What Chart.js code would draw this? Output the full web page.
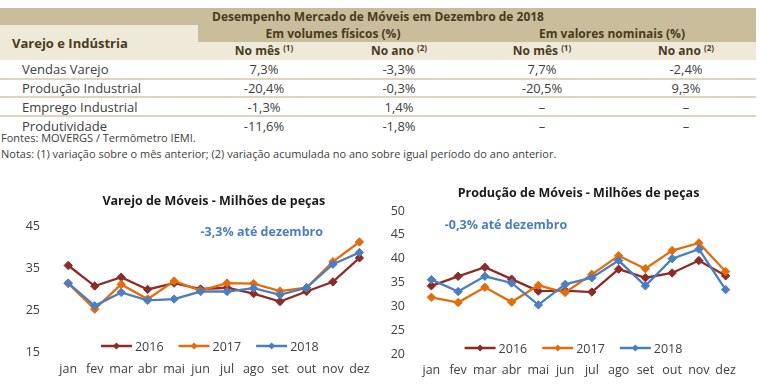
<!DOCTYPE html>
<html>
<head>
<meta charset="utf-8">
<script src="https://cdn.jsdelivr.net/npm/chart.js@4.4.1/dist/chart.umd.min.js"></script>
<style>
  body { margin: 0; width: 760px; height: 392px; background: #fff; font-family: "Open Sans", sans-serif; position: relative; overflow: hidden; }
  #tab { position: absolute; left: 0; top: 8px; width: 756px; border-collapse: collapse; table-layout: fixed; color: #404040; font-size: 13px; }
  #tab th, #tab td { padding: 0; white-space: nowrap; line-height: 14px; }
  #tab th { color: #4a3c20; font-size: 12px; font-weight: bold; }
  #tab .dark { background: #c9bd9b; }
  #tab .light { background: #efe9da; }
  #tab .lab { text-align: left; padding-left: 12px; font-size: 13px; }
  #tab sup { font-size: 8px; vertical-align: 4px; line-height: 0; }
  #tab td { text-align: center; }
  #tab td.name { text-align: left; padding-left: 22px; }
  #tab tr.sep td { border-bottom: 2px solid #ddd5c0; }
  .note { position: absolute; left: 1px; font-size: 11px; line-height: 14px; color: #404040; white-space: nowrap; }
  .box { position: absolute; }
</style>
</head>
<body>
<table id="tab">
  <colgroup><col style="width:198px"><col style="width:132px"><col style="width:138px"><col style="width:148px"><col style="width:140px"></colgroup>
  <thead>
    <tr style="height:17px"><th colspan="5" class="dark">Desempenho Mercado de Móveis em Dezembro de 2018</th></tr>
    <tr style="height:17px"><th rowspan="2" class="lab light">Varejo e Indústria</th><th colspan="2" class="dark">Em volumes físicos (%)</th><th colspan="2" class="dark">Em valores nominais (%)</th></tr>
    <tr style="height:18px" class="light"><th class="light">No mês <sup>(1)</sup></th><th class="light">No ano <sup>(2)</sup></th><th class="light">No mês <sup>(1)</sup></th><th class="light">No ano <sup>(2)</sup></th></tr>
  </thead>
  <tbody id="tbody"></tbody>
</table>
<div class="note" style="top:131px">Fontes: MOVERGS / Termômetro IEMI.</div>
<div class="note" style="top:147px">Notas: (1) variação sobre o mês anterior; (2) variação acumulada no ano sobre igual período do ano anterior.</div>

<div class="box" style="left:0;top:185px;width:380px;height:207px"><canvas id="varejoChart"></canvas></div>
<div class="box" style="left:380px;top:178px;width:380px;height:214px"><canvas id="producaoChart"></canvas></div>

<script>
// Tabela
const rowNames = ["Vendas Varejo", "Produção Industrial", "Emprego Industrial", "Produtividade"]
const volMes = ["7,3%", "-20,4%", "-1,3%", "-11,6%"]
const volAno = ["-3,3%", "-0,3%", "1,4%", "-1,8%"]
const nomMes = ["7,7%", "-20,5%", "–", "–"]
const nomAno = ["-2,4%", "9,3%", "–", "–"]
const rowHeights = [19, 18, 19, 19]

// Graficos
const months = ["jan", "fev", "mar", "abr", "mai", "jun", "jul", "ago", "set", "out", "nov", "dez"]
const years = ["2016", "2017", "2018"]
const yearColors = ["#8c2b27", "#e46c0a", "#4a7ebf"]

const varejo2016 = [35.6, 30.7, 32.8, 29.9, 31.4, 30.0, 30.3, 28.9, 27.0, 29.4, 31.7, 37.4]
const varejo2017 = [31.3, 25.2, 31.1, 27.6, 31.9, 29.6, 31.4, 31.3, 29.5, 30.3, 36.5, 41.2]
const varejo2018 = [31.4, 26.0, 29.2, 27.3, 27.6, 29.4, 29.4, 30.2, 28.6, 30.3, 35.9, 38.7]

const producao2016 = [34.3, 36.3, 38.2, 35.7, 33.2, 33.3, 33.0, 37.8, 36.0, 37.0, 39.6, 36.4]
const producao2017 = [31.9, 30.8, 34.0, 30.9, 34.4, 32.9, 36.7, 40.6, 37.9, 41.7, 43.3, 37.3]
const producao2018 = [35.6, 33.1, 36.3, 34.9, 30.3, 34.6, 36.0, 39.6, 34.3, 40.0, 42.0, 33.5]

const tbody = document.getElementById("tbody")
rowNames.forEach((name, i) => {
  const tr = document.createElement("tr")
  tr.style.height = rowHeights[i] + "px"
  if (i < rowNames.length - 1) tr.className = "sep"
  ;[name, volMes[i], volAno[i], nomMes[i], nomAno[i]].forEach((txt, j) => {
    const td = document.createElement("td")
    td.textContent = txt
    if (j === 0) td.className = "name"
    tr.appendChild(td)
  })
  tbody.appendChild(tr)
})

const FONT = "'Open Sans', sans-serif"
const TEXT = "#404040"

// legenda desenhada dentro da area do grafico, e o texto azul
const extrasPlugin = {
  id: "extras",
  afterDraw(chart) {
    const ctx = chart.ctx
    const o = chart.options.plugins.extras
    const area = chart.chartArea
    const xs = chart.scales.x, ys = chart.scales.y

    ctx.save()
    ctx.font = "bold 12.5px " + FONT
    ctx.fillStyle = "#4a7ebf"
    ctx.textAlign = "left"
    ctx.textBaseline = "middle"
    ctx.fillText(o.note, xs.getPixelForValue(o.noteAt[0]), ys.getPixelForValue(o.noteAt[1]))

    ctx.font = "12.5px " + FONT
    const lineLen = 31, gap = 3, itemGap = 15
    const items = chart.data.datasets.map(ds => ({ label: ds.label, color: ds.borderColor, w: lineLen + gap + ctx.measureText(ds.label).width }))
    const total = items.reduce((s, it) => s + it.w, 0) + itemGap * (items.length - 1)
    let x = (area.left + area.right) / 2 - o.legendShift - total / 2
    const y = area.bottom - 6
    items.forEach(it => {
      ctx.strokeStyle = it.color
      ctx.lineWidth = 2.5
      ctx.beginPath(); ctx.moveTo(x, y); ctx.lineTo(x + lineLen, y); ctx.stroke()
      ctx.fillStyle = it.color
      const cx = x + lineLen / 2
      ctx.beginPath(); ctx.moveTo(cx, y - 3.5); ctx.lineTo(cx + 3.5, y); ctx.lineTo(cx, y + 3.5); ctx.lineTo(cx - 3.5, y); ctx.closePath(); ctx.fill()
      ctx.fillStyle = TEXT
      ctx.fillText(it.label, x + lineLen + gap, y + 1)
      x += it.w + itemGap
    })
    ctx.restore()
  }
}

function makeChart(id, title, series, yMin, yMax, step, opts) {
  const datasets = series.map((data, i) => ({
    label: years[i],
    data,
    borderColor: yearColors[i],
    backgroundColor: yearColors[i],
    borderWidth: 2.3,
    pointStyle: "rectRot",
    pointRadius: 4.2,
    pointBorderWidth: 1,
    tension: 0,
    order: series.length - i
  }))

  return new Chart(document.getElementById(id), {
    type: "line",
    data: { labels: months, datasets },
    options: {
      responsive: true,
      maintainAspectRatio: false,
      animation: false,
      layout: { padding: { top: 0, left: 0, right: opts.padRight, bottom: opts.padBottom } },
      plugins: {
        legend: { display: false },
        tooltip: { enabled: false },
        title: {
          display: true,
          text: title,
          color: "#1a1a1a",
          fullSize: false,
          font: { family: FONT, size: 12.5, weight: "bold" },
          padding: { top: opts.titleTop, bottom: opts.titleBottom }
        },
        extras: { note: opts.note, noteAt: opts.noteAt, legendShift: opts.legendShift }
      },
      scales: {
        x: {
          offset: true,
          grid: { display: false, drawTicks: false, offset: true },
          border: { display: false },
          ticks: { color: TEXT, font: { family: FONT, size: 12.5 }, padding: opts.xPad, autoSkip: false, maxRotation: 0 }
        },
        y: {
          min: yMin,
          max: yMax,
          grid: { display: false, drawTicks: false },
          border: { display: false },
          ticks: { stepSize: step, color: TEXT, font: { family: FONT, size: 12.5 }, padding: opts.yPad },
          afterFit: (scale) => { scale.width = opts.yWidth }
        }
      }
    },
    plugins: [extrasPlugin]
  })
}

makeChart("varejoChart", "Varejo de Móveis - Milhões de peças",
  [varejo2016, varejo2017, varejo2018], 15, 45, 10,
  { padRight: 6, padBottom: 5, titleTop: 8.5, titleBottom: 17.5, xPad: 10, yPad: 15, yWidth: 55,
    note: "-3,3% até dezembro", noteAt: [5, 43.5], legendShift: 4 })

makeChart("producaoChart", "Produção de Móveis - Milhões de peças",
  [producao2016, producao2017, producao2018], 20, 50, 5,
  { padRight: 21, padBottom: 5, titleTop: 7.5, titleBottom: 10.5, xPad: 9, yPad: 13, yWidth: 38,
    note: "-0,3% até dezembro", noteAt: [0.5, 47], legendShift: 5 })
</script>
</body>
</html>
